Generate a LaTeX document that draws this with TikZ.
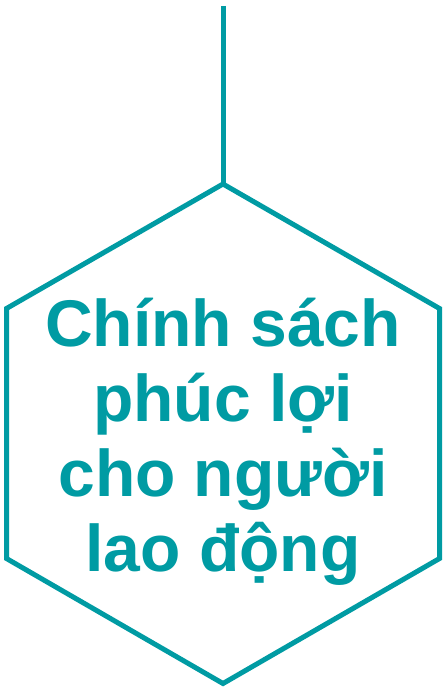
\documentclass[tikz,border=0pt]{standalone}
\usepackage{fontspec}
\setmainfont{Liberation Sans}
\definecolor{hexteal}{RGB}{0,155,163}
\begin{document}
\begin{tikzpicture}[
    x=1pt, y=-1pt,
    edge/.style={draw=hexteal, line width=5pt},
    label/.style={anchor=base, text=hexteal, inner sep=0pt,
      font=\fontsize{66}{75}\selectfont\bfseries}
]
  \useasboundingbox (0,0) rectangle (447,690);
  % corners of the hexagon, top first, clockwise
  \coordinate (stem) at (223,6);
  \coordinate (top) at (223,184);
  \coordinate (ur) at (439.5,308.5);
  \coordinate (lr) at (439.5,558.5);
  \coordinate (bot) at (223,683.5);
  \coordinate (ll) at (6.5,558.5);
  \coordinate (ul) at (6.5,308.5);
  \draw[edge] (stem) -- (top);
  \draw[edge] (top) -- (ur) -- (lr) -- (bot) -- (ll) -- (ul) -- cycle;
  \node[label] (line1) at (223,346) {Chính sách};
  \node[label] (line2) at (223,421) {phúc lợi};
  \node[label] (line3) at (223,496) {cho người};
  \node[label] (line4) at (223,571) {lao động};
\end{tikzpicture}
\end{document}
